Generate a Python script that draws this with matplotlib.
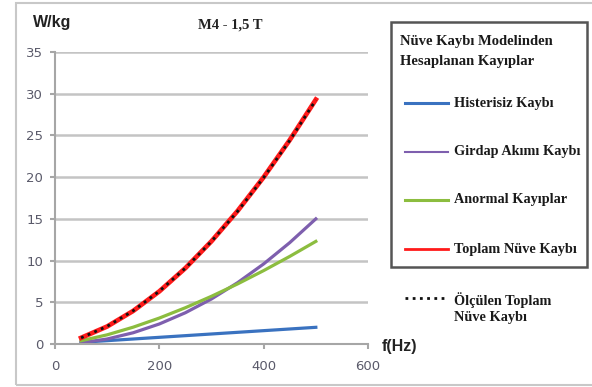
import matplotlib
matplotlib.use("Agg")
import matplotlib.pyplot as plt
from matplotlib.lines import Line2D
from matplotlib.patches import Rectangle

freq = [50, 100, 150, 200, 250, 300, 350, 400, 450, 500]
histerisiz = [0.2, 0.4, 0.6, 0.8, 1.0, 1.2, 1.4, 1.6, 1.8, 2.0]
girdap = [0.15, 0.6, 1.35, 2.4, 3.75, 5.4, 7.35, 9.6, 12.15, 15.0]
anormal = [0.39, 1.1, 2.02, 3.11, 4.35, 5.72, 7.2, 8.8, 10.5, 12.3]
toplam = [0.74, 2.1, 3.97, 6.31, 9.1, 12.32, 15.95, 20.0, 24.45, 29.3]
olculen = [0.74, 2.12, 3.99, 6.33, 9.1, 12.3, 15.9, 19.95, 24.4, 29.25]

xticks = [0, 200, 400, 600]
yticks = [0, 5, 10, 15, 20, 25, 30, 35]

W, H = 592, 387
fig = plt.figure(figsize=(W / 100, H / 100), dpi=100)

def fx(px):
    return px / W

def fy(py):
    return 1 - py / H

# outer border
fig.patches.append(Rectangle((fx(16), fy(385)), fx(600) - fx(16), fy(3) - fy(385),
                             transform=fig.transFigure, fill=False,
                             edgecolor="#c8c8c8", linewidth=1.5))

ax = fig.add_axes([fx(55), fy(344), fx(368) - fx(55), fy(52) - fy(344)])
ax.set_xlim(0, 600)
ax.set_ylim(0, 35)
ax.set_xticks(xticks)
ax.set_yticks(yticks)
for s in ["top", "right"]:
    ax.spines[s].set_visible(False)
for s in ["left", "bottom"]:
    ax.spines[s].set_color("#a6a6a6")
    ax.spines[s].set_linewidth(1.5)
ax.yaxis.grid(True, color="#c4c4c4", linewidth=1.8)
ax.set_axisbelow(True)
ax.tick_params(axis="both", colors="#a6a6a6", labelcolor="#5a5a6a", labelsize=9.5,
               length=3.5, width=1.5)
ax.tick_params(axis="y", pad=5)
ax.tick_params(axis="x", pad=8)
for lab in ax.get_xticklabels() + ax.get_yticklabels():
    lab.set_fontfamily("DejaVu Sans")

ax.plot(freq, histerisiz, color="#3a72c0", linewidth=2.3, clip_on=False)
ax.plot(freq, girdap, color="#7e5fae", linewidth=2.3, clip_on=False)
ax.plot(freq, anormal, color="#8cbd3f", linewidth=2.3, clip_on=False)
ax.plot(freq, toplam, color="#ff1a1a", linewidth=3.4, clip_on=False)
ax.plot(freq, olculen, color="#111111", linewidth=2.0, linestyle=(0, (1, 1.6)),
        clip_on=False)

serif = "Liberation Serif"
fig.text(fx(52), fy(23), "W/kg", fontsize=11.5, fontweight="bold",
         family="Liberation Sans", ha="center", va="center", color="#222222")
fig.text(fx(230), fy(25), "M4 - 1,5 T", fontsize=10.5, fontweight="bold",
         family=serif, ha="center", va="center", color="#222222")
fig.text(fx(400), fy(346), "f(Hz)", fontsize=11.5, fontweight="bold",
         family="Liberation Sans", ha="center", va="center", color="#222222")

# legend box
fig.patches.append(Rectangle((fx(391), fy(267)), fx(587) - fx(391), fy(22) - fy(267),
                             transform=fig.transFigure, fill=False,
                             edgecolor="#555555", linewidth=1.8))
fig.text(fx(400), fy(42), "Nüve Kaybı Modelinden", fontsize=10.5, fontweight="bold",
         family=serif, ha="left", va="center", color="#1a1a1a")
fig.text(fx(400), fy(61), "Hesaplanan Kayıplar", fontsize=10.5, fontweight="bold",
         family=serif, ha="left", va="center", color="#1a1a1a")

entries = [
    ("Histerisiz Kaybı", "#3a72c0", 103, 2.2),
    ("Girdap Akımı Kaybı", "#7e5fae", 152, 1.5),
    ("Anormal Kayıplar", "#8cbd3f", 200, 2.2),
    ("Toplam Nüve Kaybı", "#ff1a1a", 249, 2.0),
]
for label, col, py, lw in entries:
    fig.lines.append(Line2D([fx(405), fx(448)], [fy(py), fy(py)], color=col,
                            linewidth=lw, transform=fig.transFigure))
    fig.text(fx(454), fy(py), label, fontsize=10.3, fontweight="bold", family=serif,
             ha="left", va="center", color="#1a1a1a")

fig.lines.append(Line2D([fx(405), fx(446)], [fy(298), fy(298)], color="#111111",
                        linewidth=2.0, linestyle=(0, (1, 1.6)),
                        transform=fig.transFigure))
fig.text(fx(454), fy(300), "Ölçülen Toplam", fontsize=10.3, fontweight="bold",
         family=serif, ha="left", va="center", color="#1a1a1a")
fig.text(fx(454), fy(318), "Nüve Kaybı", fontsize=10.3, fontweight="bold",
         family=serif, ha="left", va="center", color="#1a1a1a")

fig.savefig("out.png", dpi=100)
